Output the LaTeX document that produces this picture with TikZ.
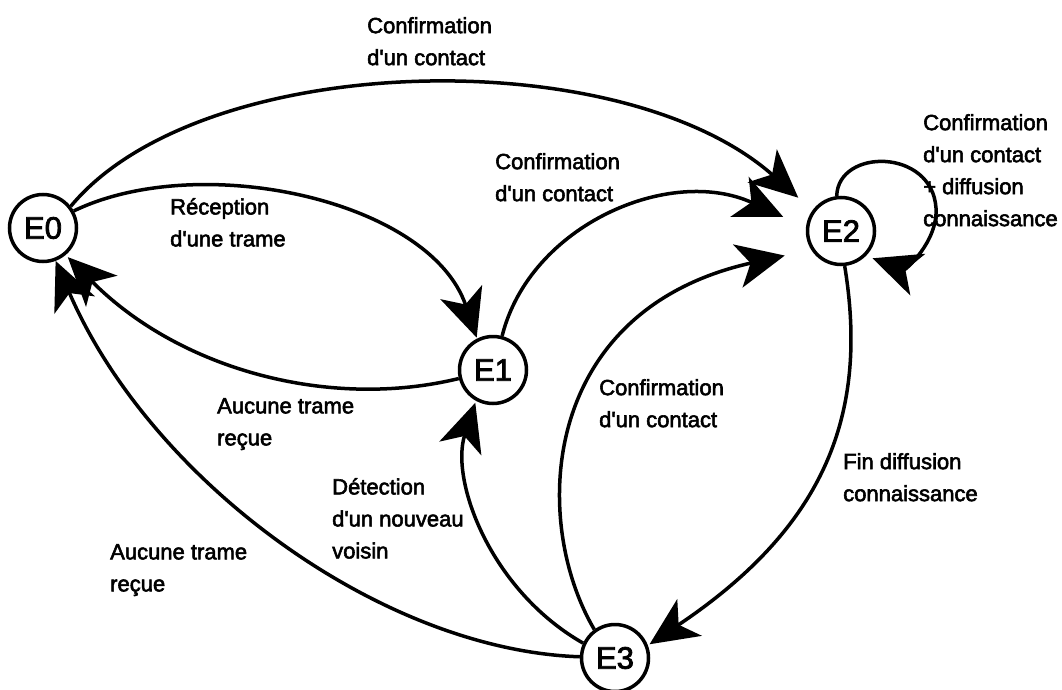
\documentclass[tikz,border=0pt]{standalone}
\usepackage{fontspec}
\setmainfont{Liberation Sans}
\newfontfamily\lblfont{Liberation Sans}[FakeBold=2.5]
\usetikzlibrary{arrows.meta}
\newcommand{\apq}{\textquotesingle}
\begin{document}
\begin{tikzpicture}[x=1pt,y=-1pt,
  state/.style={circle,draw,line width=3.5pt,minimum size=67pt,inner sep=0pt,font=\lblfont\fontsize{31}{37}\selectfont},
  trans/.style={line width=3.5pt,-{Stealth[length=48pt,width=44pt,inset=13pt]}},
  lbl/.style={anchor=north west,inner sep=0pt,align=left,font=\lblfont\fontsize{22}{32}\selectfont}]
\useasboundingbox (0,0) rectangle (1062,690);
\fill[white] (0,0) rectangle (1062,690);
% states
\node[state] (E0) at (43,228) {E0};
\node[state] (E1) at (493,370) {E1};
\node[state] (E2) at (841,231) {E2};
\node[state] (E3) at (615,658) {E3};
% transitions
\draw[trans,shorten >=19pt] (E0.38) .. controls (200,50) and (620,40) .. (E2.144);
\draw[trans,shorten >=1pt] (E0.29) .. controls (200,150) and (430,200) .. (E1.117);
\draw[trans,shorten >=3pt] (E1.194) .. controls (330,410) and (180,370) .. (E0.-50);
\draw[trans,shorten >=25pt] (E1.75) .. controls (530,225) and (670,165) .. (E2.174);
\draw[trans,shorten >=27pt] (E3.126) .. controls (530,520) and (540,310) .. (E2.212);
\draw[trans,shorten >=2pt] (E3.155) .. controls (490,590) and (450,480) .. (E1.-119);
\draw[trans] (E3.178) .. controls (380,650) and (150,480) .. (E0.-69);
\draw[trans,shorten >=2pt] (E2.-84) .. controls (870,420) and (820,530) .. (E3.21);
\draw[trans,shorten >=7pt] (E2.97) .. controls (838,148) and (932,148) .. (936,208) .. controls (938,242) and (905,270) .. (E2.-45);
% labels
\node[lbl] (l1) at (367,17) {Confirmation\\d\apq un contact};
\node[lbl] (l2) at (170,198) {Réception\\d\apq une trame};
\node[lbl] (l3) at (495,153) {Confirmation\\d\apq un contact};
\node[lbl] (l4) at (923,114) {Confirmation\\d\apq un contact\\+ diffusion\\connaissance};
\node[lbl] (l5) at (217,398) {Aucune trame\\reçue};
\node[lbl] (l6) at (599,379) {Confirmation\\d\apq un contact};
\node[lbl] (l7) at (843,453) {Fin diffusion\\connaissance};
\node[lbl] (l8) at (332,478) {Détection\\d\apq un nouveau\\voisin};
\node[lbl] (l9) at (110,544) {Aucune trame\\reçue};
\end{tikzpicture}
\end{document}
